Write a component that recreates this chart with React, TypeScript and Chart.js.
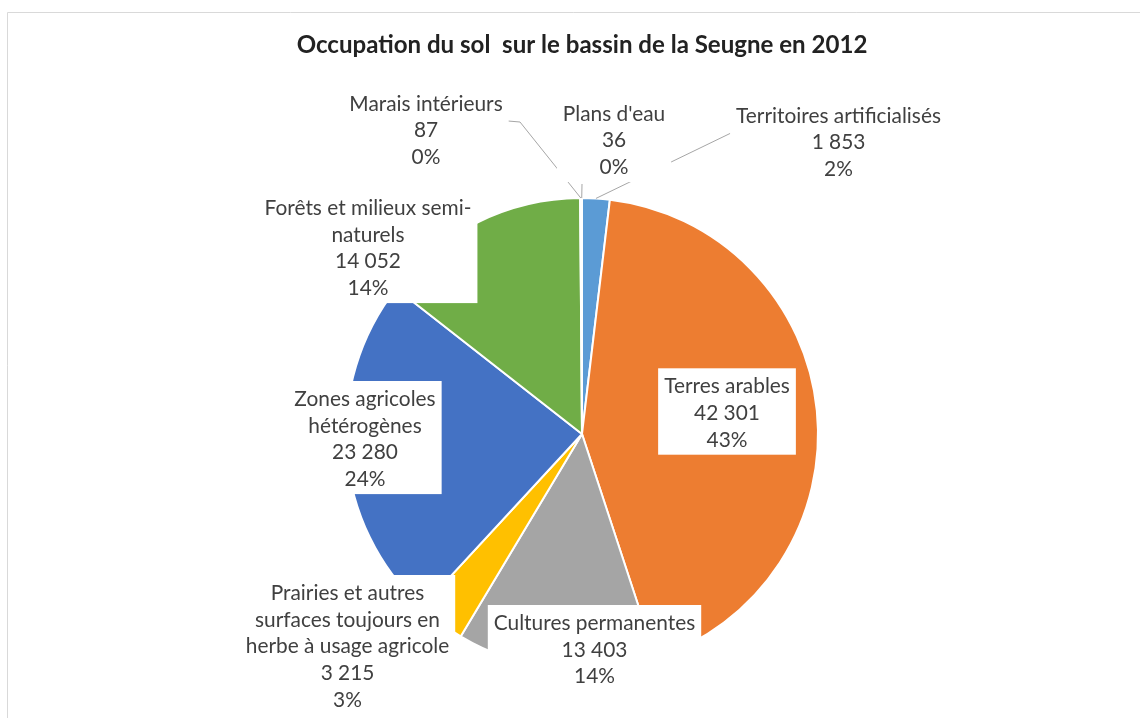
import React, { useEffect, useRef } from "react";
import { Chart, registerables } from "chart.js";

Chart.register(...registerables);

// ---------- data ----------
const TITLE = "Occupation du sol  sur le bassin de la Seugne en 2012";

const categories = [
  "Territoires artificialisés",
  "Terres arables",
  "Cultures permanentes",
  "Prairies et autres surfaces toujours en herbe à usage agricole",
  "Zones agricoles hétérogènes",
  "Forêts et milieux semi-naturels",
  "Marais intérieurs",
  "Plans d'eau",
];

// wrapped category text as shown in the data labels
const labelLines: string[][] = [
  ["Territoires artificialisés"],
  ["Terres arables"],
  ["Cultures permanentes"],
  ["Prairies et autres", "surfaces toujours en", "herbe à usage agricole"],
  ["Zones agricoles", "hétérogènes"],
  ["Forêts et milieux semi-", "naturels"],
  ["Marais intérieurs"],
  ["Plans d'eau"],
];

const surfaces = [1853, 42301, 13403, 3215, 23280, 14052, 87, 36];

const sliceColors = [
  "#5B9BD5",
  "#ED7D31",
  "#A5A5A5",
  "#FFC000",
  "#4472C4",
  "#70AD47",
  "#264478",
  "#9E480E",
];

// ---------- label layout (relative to the pie centre) ----------
const labelOffsetX = [256.5, 145, 12.5, -234.5, -217, -214, -156, 32];
const labelOffsetY = [-311.3, -40.7, 196, 166, -28, -219, -323.3, -313.3];
// leader line points relative to label anchor (centre x, first baseline); last point = slice edge
const leaderPoints: number[][][] = [
  [[-107.5, 10.3]],
  [],
  [],
  [],
  [],
  [],
  [[82, 10.3], [94, 11.3]],
  [[-32, 63.3]],
];

const W = 1140;
const H = 718;
const PIE_CX = 582;
const PIE_CY = 434;
const PIE_R = 236;
const LINE_H = 26.7;
const FONT = "Lato, 'Open Sans', sans-serif";

function fitSize(text: string, weight: string, target: number): number {
  const c = document.createElement("canvas").getContext("2d") as CanvasRenderingContext2D;
  c.font = `${weight} 100px ${FONT}`;
  return (100 * target) / c.measureText(text).width;
}

function fmt(v: number): string {
  return v.toString().replace(/\B(?=(\d{3})+(?!\d))/g, " ");
}

export default function App() {
  const ref = useRef<HTMLCanvasElement | null>(null);

  useEffect(() => {
    if (!ref.current) return;
    const labelSize = fitSize("Territoires artificialisés", "normal", 205);
    const titleSize = fitSize(TITLE, "bold", 571);
    const titleMiddle = 45.5;
    const padTop = titleMiddle - titleSize * 0.6;
    const areaTop = PIE_CY - PIE_R;
    const titleBottomPad = areaTop - (padTop + titleSize * 1.2);
    const total = surfaces.reduce((a, b) => a + b, 0);

    const labelPlugin = {
      id: "excelLabels",
      beforeDraw(chart: any) {
        const ctx = chart.ctx as CanvasRenderingContext2D;
        ctx.save();
        ctx.fillStyle = "#ffffff";
        ctx.fillRect(0, 0, chart.width, chart.height);
        ctx.strokeStyle = "#D9D9D9";
        ctx.lineWidth = 1;
        ctx.beginPath();
        ctx.moveTo(7.5, chart.height);
        ctx.lineTo(7.5, 12.5);
        ctx.lineTo(chart.width, 12.5);
        ctx.stroke();
        ctx.restore();
      },
      afterDatasetsDraw(chart: any) {
        const ctx = chart.ctx as CanvasRenderingContext2D;
        const meta = chart.getDatasetMeta(0);
        ctx.save();
        ctx.font = `${labelSize}px ${FONT}`;
        // leader lines
        ctx.strokeStyle = "#A6A6A6";
        ctx.lineWidth = 1;
        meta.data.forEach((arc: any, i: number) => {
          const pts = leaderPoints[i];
          if (!pts.length) return;
          const p = arc.getProps(["x", "y", "startAngle", "endAngle", "outerRadius"], true);
          const mid = (p.startAngle + p.endAngle) / 2;
          const ex = p.x + Math.cos(mid) * p.outerRadius;
          const ey = p.y + Math.sin(mid) * p.outerRadius;
          const ax = p.x + labelOffsetX[i];
          const ay = p.y + labelOffsetY[i];
          ctx.beginPath();
          ctx.moveTo(ax + pts[0][0], ay + pts[0][1]);
          for (let k = 1; k < pts.length; k++) ctx.lineTo(ax + pts[k][0], ay + pts[k][1]);
          ctx.lineTo(ex, ey);
          ctx.stroke();
        });
        // label boxes and texts
        meta.data.forEach((arc: any, i: number) => {
          const p = arc.getProps(["x", "y"], true);
          const ax = p.x + labelOffsetX[i];
          const ay = p.y + labelOffsetY[i];
          const pct = Math.round((surfaces[i] / total) * 100) + "%";
          const lines = [...labelLines[i], fmt(surfaces[i]), pct];
          const w = Math.max(...lines.map((l) => ctx.measureText(l).width));
          const top = ay - 25;
          const bottom = ay + (lines.length - 1) * LINE_H + 8;
          ctx.fillStyle = "#ffffff";
          ctx.fillRect(ax - w / 2 - 6, top, w + 12, bottom - top);
          ctx.fillStyle = "#404040";
          ctx.textAlign = "center";
          ctx.textBaseline = "alphabetic";
          lines.forEach((l, k) => ctx.fillText(l, ax, ay + k * LINE_H));
        });
        ctx.restore();
      },
    };

    const chart = new Chart(ref.current, {
      type: "pie",
      data: {
        labels: categories,
        datasets: [
          {
            data: surfaces,
            backgroundColor: sliceColors,
            borderColor: "#ffffff",
            borderWidth: 2,
            radius: PIE_R,
          } as any,
        ],
      },
      options: {
        animation: false,
        responsive: false,
        devicePixelRatio: 1,
        layout: {
          padding: {
            left: 2 * PIE_CX - W,
            right: 0,
            top: padTop,
            bottom: H - (PIE_CY + PIE_R),
          },
        },
        plugins: {
          legend: { display: false },
          tooltip: { enabled: false },
          title: {
            display: true,
            text: TITLE,
            color: "#222222",
            font: { family: FONT, weight: "bold", size: titleSize, lineHeight: 1.2 },
            padding: { top: 0, bottom: titleBottomPad },
          },
        },
      },
      plugins: [labelPlugin],
    });
    return () => chart.destroy();
  }, []);

  return (
    <div style={{ position: "absolute", left: 0, top: 0, width: W, height: H, overflow: "hidden", background: "#fff" }}>
      <canvas ref={ref} width={W} height={H} style={{ display: "block", width: W, height: H }} />
    </div>
  );
}
